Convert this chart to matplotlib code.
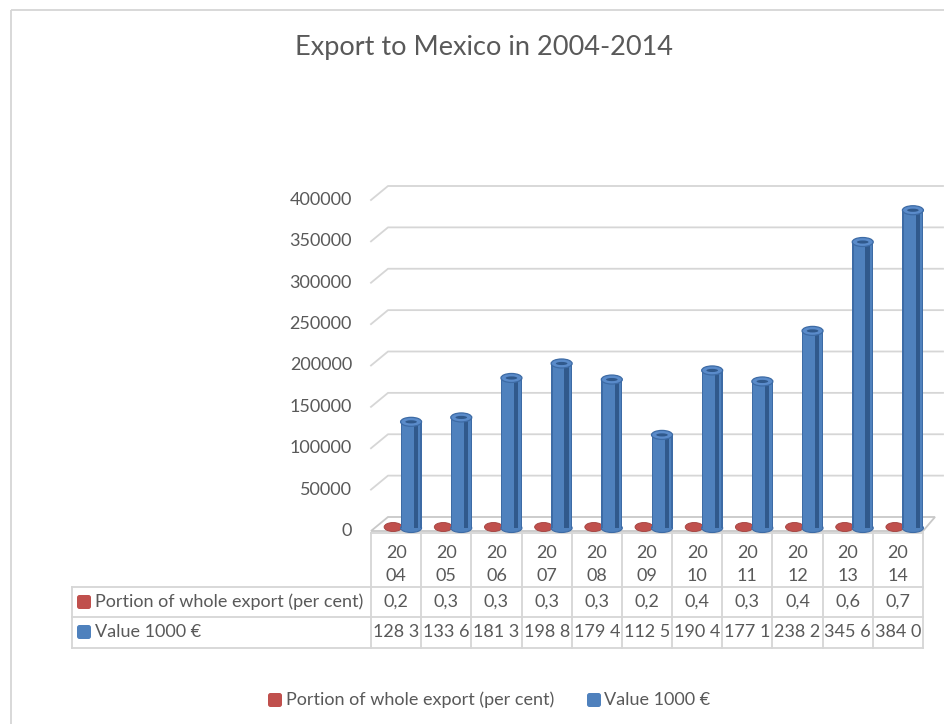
import matplotlib
matplotlib.use("Agg")
import matplotlib.pyplot as plt
from matplotlib.patches import Ellipse, Rectangle, FancyBboxPatch, Polygon

# ---------------- data ----------------
years = ["2004", "2005", "2006", "2007", "2008", "2009", "2010", "2011", "2012", "2013", "2014"]
portion_pct = [0.2, 0.3, 0.3, 0.3, 0.3, 0.2, 0.4, 0.3, 0.4, 0.6, 0.7]
value_keur = [128300, 133600, 181300, 198800, 179400, 112500, 190400, 177100, 238200, 345600, 384000]
y_ticks = [0, 50000, 100000, 150000, 200000, 250000, 300000, 350000, 400000]
title = "Export to Mexico in 2004-2014"
series_names = ["Portion of whole export (per cent)", "Value 1000 \u20ac"]

# ---------------- styles ----------------
W, H = 945, 724
FONT = "Lato"
TXT = "#595959"
GRID = "#D6D6D6"
FLOOR = "#C8C8C8"
RED = "#C0504D"
RED_DARK = "#A33F3C"
BLUE = "#4F81BD"
BLUE_DARK = "#30598C"
BLUE_EDGE = "#3D6BA5"
BLUE_TOP = "#5A8BCA"

fig = plt.figure(figsize=(W / 100, H / 100), dpi=100)
fig.patch.set_facecolor("white")

# overlay axes in pixel coordinates for decorations
ov = fig.add_axes([0, 0, 1, 1], zorder=0)
ov.set_xlim(0, W)
ov.set_ylim(H, 0)
ov.axis("off")

# main plot axes: front plane of the 3D box
L, R, B, T = 371, 923, 531, 200
ax = fig.add_axes([L / W, 1 - B / H, (R - L) / W, (B - T) / H], zorder=1)
ax.set_xlim(0, len(years))
ax.set_ylim(0, 400000)
ax.axis("off")
ax.patch.set_alpha(0)

ux = len(years) / (R - L)     # data units per px (x)
uy = 400000 / (B - T)         # data units per px (y)

renderer = fig.canvas.get_renderer()


def fit_size(text, target_px, family=FONT, base=10.0):
    t = fig.text(0, 0, text, fontsize=base, family=family)
    w = t.get_window_extent(renderer).width
    t.remove()
    return base * target_px / w


body_fs = fit_size(series_names[0], 270)
title_fs = fit_size(title, 378)

# chart border
ov.add_patch(Rectangle((11, 10), 1000, 800, fill=False, edgecolor=GRID, lw=1.3, clip_on=False))

# title
ov.text(484, 47, title, ha="center", va="center", fontsize=title_fs, family=FONT, color=TXT)

# ---------------- 3D box ----------------
dx = 17 * ux
dy = 14 * uy
dx_r = 12 * ux
xmax_grid = (943 - L) * ux
for v in y_ticks[1:]:
    ax.plot([0, dx, xmax_grid], [v, v + dy, v + dy], color=GRID, lw=1.3, clip_on=False, zorder=1)
# floor
n = len(years)
floor = Polygon([[0, 0], [n, 0], [n + dx_r, dy], [dx, dy]], closed=True,
                facecolor="white", edgecolor=FLOOR, lw=1.3, clip_on=False, zorder=2)
ax.add_patch(floor)
ax.plot([0, n], [-1.5 * uy, -1.5 * uy], color=GRID, lw=1.3, clip_on=False, zorder=2)

# y tick labels
for v in y_ticks:
    ax.text(-19 * ux, v, f"{v}", ha="right", va="center", fontsize=body_fs,
            family=FONT, color=TXT, clip_on=False)

# ---------------- columns ----------------
red_off = -3 * ux
red_base = 4 * uy
red_w = 18 * ux
red_h = 9 * uy
blue_off = 15 * ux
blue_base = 3 * uy
bw = 21 * ux
eh = 9 * uy

for i, p in enumerate(portion_pct):
    xc = i + 0.5 + red_off
    ax.add_patch(Ellipse((xc, red_base + p), red_w, red_h, facecolor=RED,
                         edgecolor=RED_DARK, lw=0.6, zorder=3, clip_on=False))

for i, v in enumerate(value_keur):
    xc = i + 0.5 + blue_off
    ax.add_patch(Ellipse((xc, blue_base), bw, eh, facecolor=BLUE, edgecolor=BLUE_EDGE,
                         lw=0.8, zorder=4, clip_on=False))
    ax.bar(xc, v, width=bw, bottom=blue_base, color=BLUE, edgecolor="none", zorder=4, clip_on=False)
    ax.bar(xc - bw / 2 + 0.7 * ux, v, width=1.4 * ux, bottom=blue_base, color=BLUE_EDGE,
           edgecolor="none", zorder=4, clip_on=False)
    ax.bar(xc + 0.23 * bw, v, width=0.2 * bw, bottom=blue_base, color=BLUE_DARK,
           edgecolor="none", zorder=4, clip_on=False)
    ax.bar(xc + bw / 2 - 0.6 * ux, v, width=1.2 * ux, bottom=blue_base, color=BLUE_EDGE,
           edgecolor="none", zorder=4, clip_on=False)
    ax.add_patch(Ellipse((xc, blue_base + v), bw, eh, facecolor=BLUE_TOP, edgecolor=BLUE_EDGE,
                         lw=0.9, zorder=5, clip_on=False))
    ax.add_patch(Ellipse((xc, blue_base + v), 0.55 * bw, 0.35 * eh, facecolor=BLUE_DARK,
                         edgecolor="none", zorder=5, clip_on=False))

# ---------------- data table ----------------
def col_px(x):
    return ax.transData.transform((x, 0))[0]

left_px = 72
y_top, y_r1, y_r2, y_bot = 533, 587, 617, 648
for i in range(n + 1):
    xp = col_px(i)
    ov.plot([xp, xp], [y_top, y_bot], color=GRID, lw=1.3)
for yy in (y_r1, y_r2, y_bot):
    ov.plot([left_px, col_px(n)], [yy, yy], color=GRID, lw=1.3)
ov.plot([left_px, left_px], [y_r1, y_bot], color=GRID, lw=1.3)

for i, yr in enumerate(years):
    xp = col_px(i + 0.5)
    ov.text(xp, 553, yr[:2], ha="center", va="center", fontsize=body_fs, family=FONT, color=TXT)
    ov.text(xp, 576, yr[2:], ha="center", va="center", fontsize=body_fs, family=FONT, color=TXT)
    ov.text(xp, 602, f"{portion_pct[i]:.1f}".replace(".", ","), ha="center", va="center",
            fontsize=body_fs, family=FONT, color=TXT)
    v = value_keur[i]
    ov.text(xp, 632, f"{v // 1000} {(v // 100) % 10}", ha="center", va="center",
            fontsize=body_fs, family=FONT, color=TXT)


def key(x, y, color, size=14):
    ov.add_patch(FancyBboxPatch((x, y), size, size, boxstyle="round,pad=0,rounding_size=2.5",
                                facecolor=color, edgecolor="none"))


key(77, 595, RED)
ov.text(95, 602, series_names[0], ha="left", va="center", fontsize=body_fs, family=FONT, color=TXT)
key(77, 625, BLUE)
ov.text(95, 632, series_names[1], ha="left", va="center", fontsize=body_fs, family=FONT, color=TXT)

# ---------------- legend ----------------
key(268, 693, RED)
ov.text(286, 700, series_names[0], ha="left", va="center", fontsize=body_fs, family=FONT, color=TXT)
key(587, 693, BLUE)
ov.text(604, 700, series_names[1], ha="left", va="center", fontsize=body_fs, family=FONT, color=TXT)

fig.savefig("out.png", dpi=100, facecolor="white")
